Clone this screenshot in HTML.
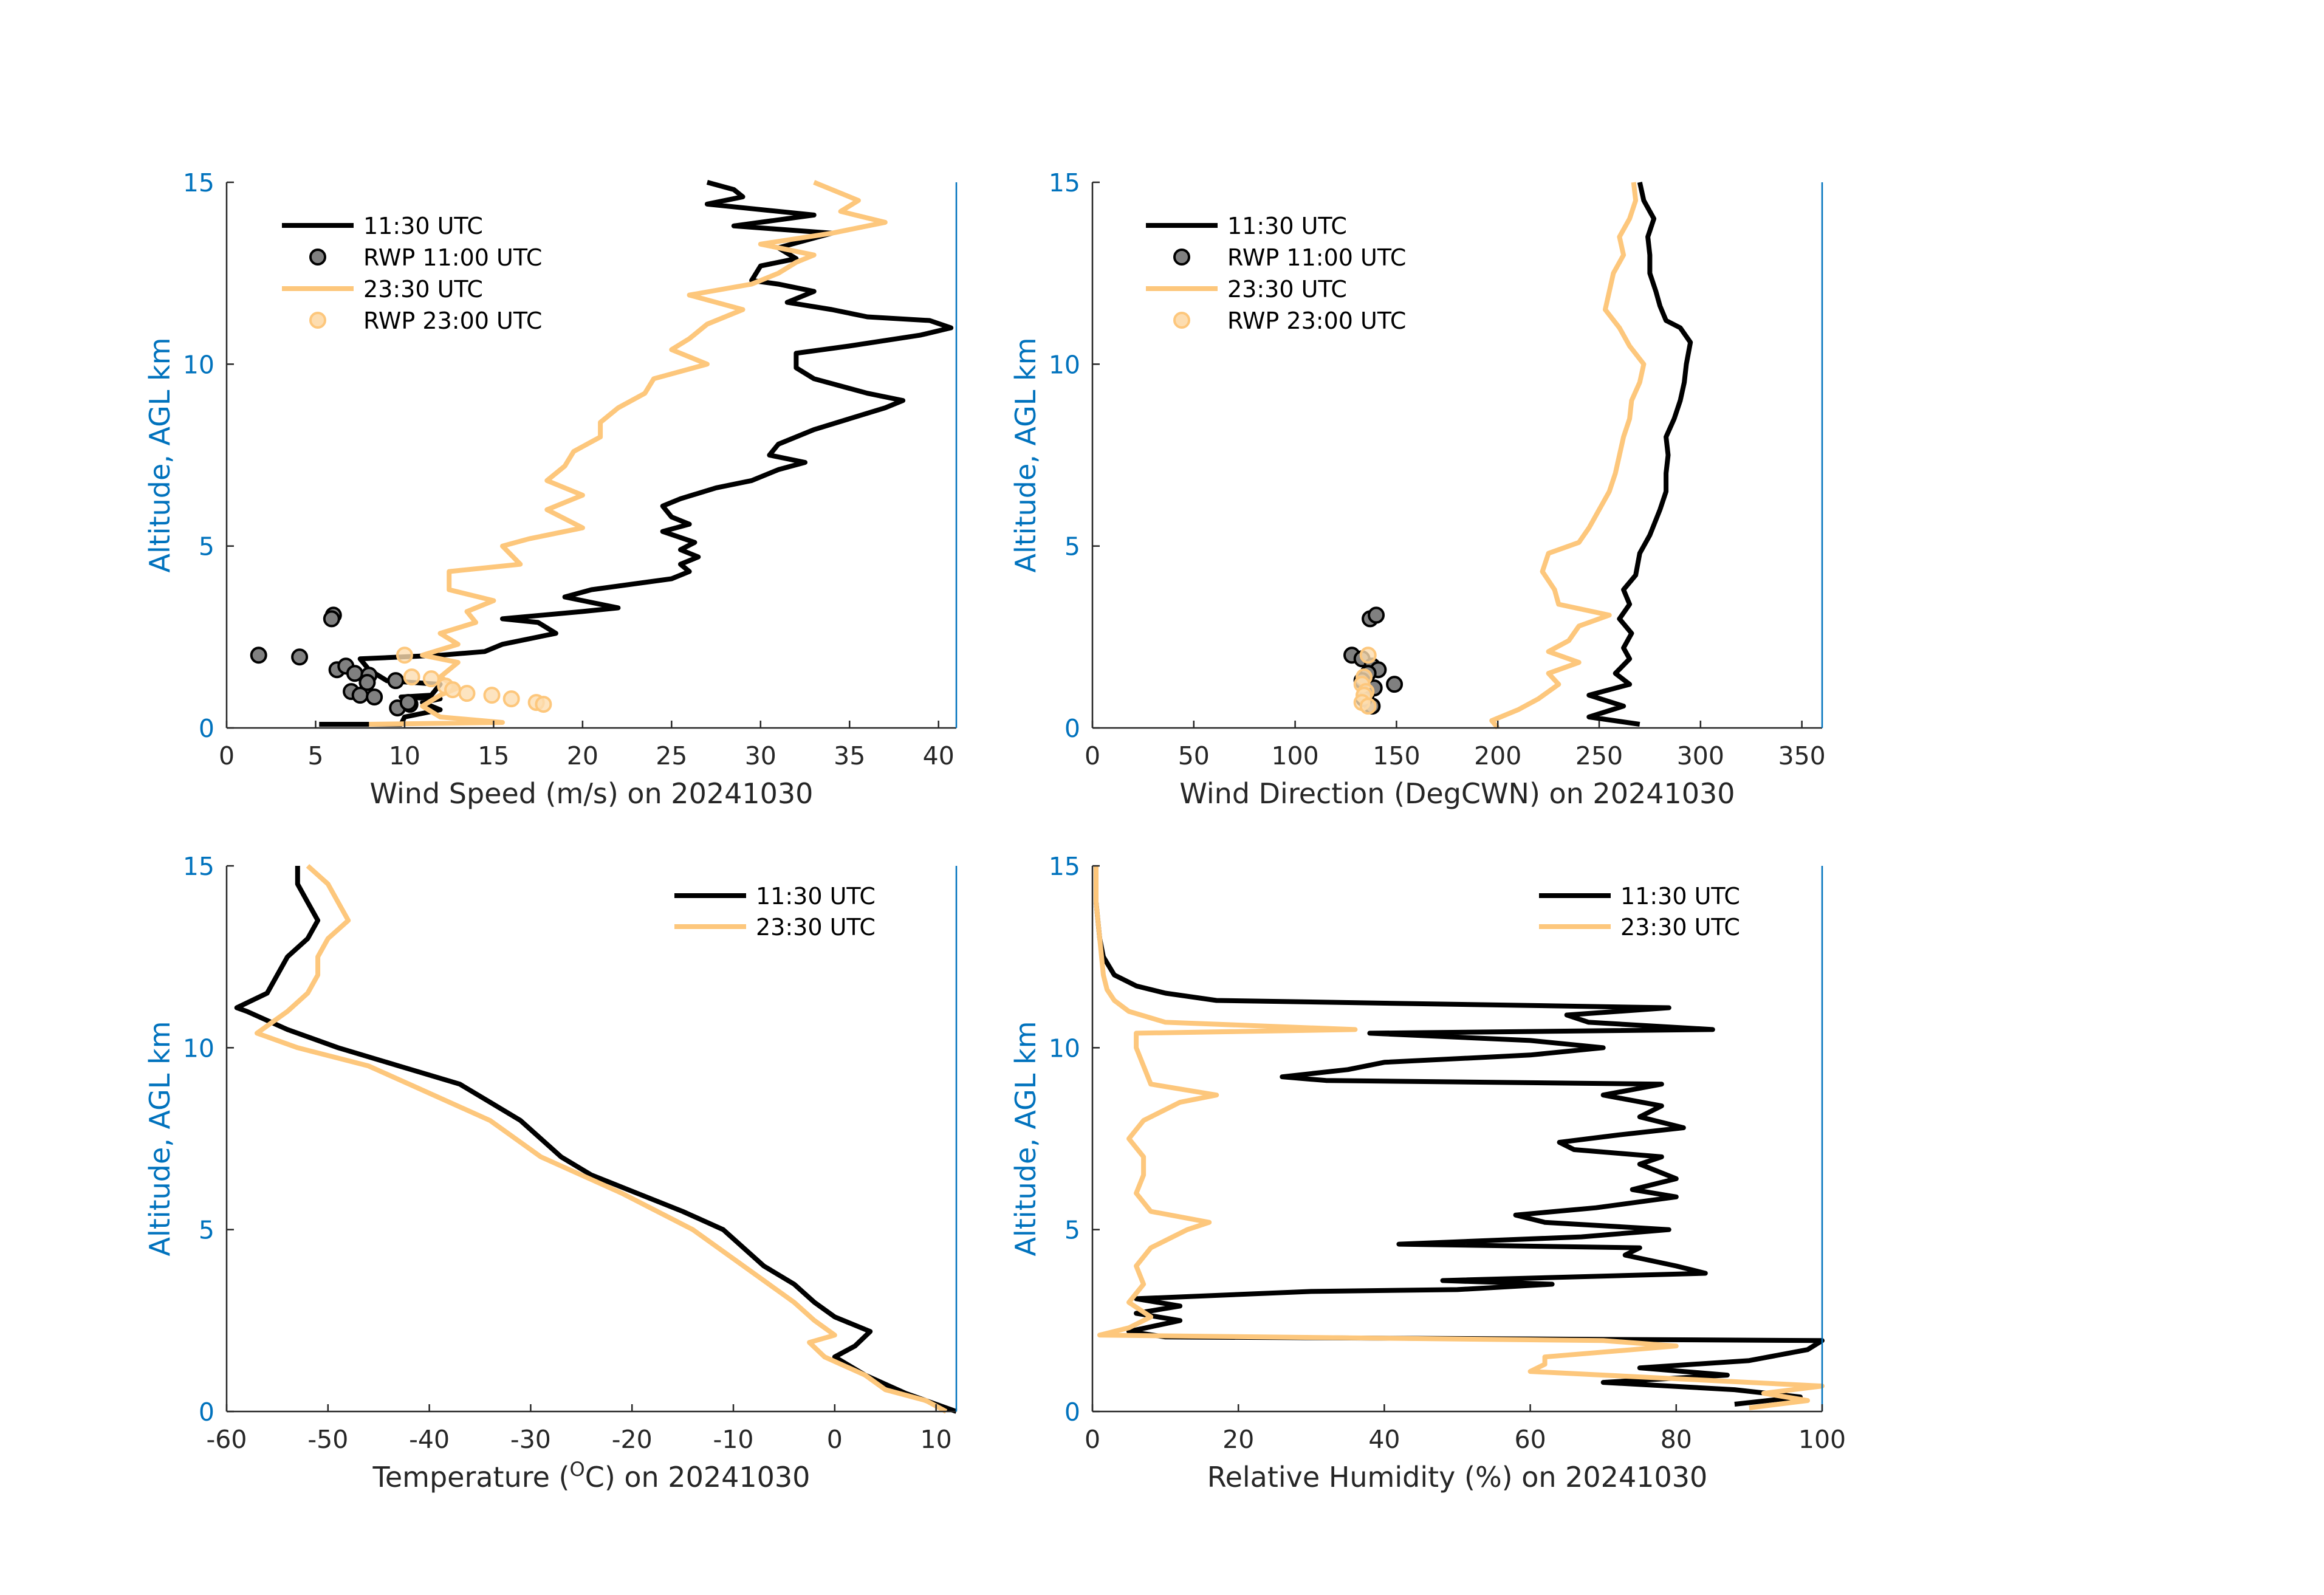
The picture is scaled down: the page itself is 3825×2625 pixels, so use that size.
<!DOCTYPE html>
<html><head><meta charset="utf-8">
<style>
html,body{margin:0;padding:0;background:#fff;}
svg{display:block;font-family:"DejaVu Sans","Liberation Sans",sans-serif;}
</style></head>
<body>
<svg id="fig" width="3825" height="2625" viewBox="0 0 3825 2625" xmlns="http://www.w3.org/2000/svg"></svg>
<script>
// ---- data: altitude (km) arrays paired with values ----
const wsAlt1 = [0.1,0.1,0.3,0.5,0.7,0.8,0.85,0.9,1.2,1.3,1.6,1.9,2.0,2.1,2.3,2.6,2.9,3.0,3.2,3.3,3.6,3.8,4.1,4.3,4.5,4.7,4.9,5.1,5.4,5.6,5.8,6.1,6.3,6.6,6.8,7.1,7.3,7.5,7.8,8.2,8.5,8.8,9.0,9.2,9.6,9.9,10.3,10.5,10.8,11.0,11.2,11.3,11.5,11.7,12.0,12.2,12.3,12.7,12.9,13.2,13.6,13.8,14.1,14.4,14.6,14.8,15];
const wsVal1 = [5.2,9.8,10,12,11,12,9.8,11.5,12,9,8,7.5,12,14.5,15.5,18.5,17.5,15.5,20,22,19,20.5,25,26,25.5,26.5,25.5,26.3,24.5,26,25,24.5,25.5,27.5,29.5,31,32.5,30.5,31,33,35,37,38,36,33,32,32,35,39,40.7,39.5,36,34,31.5,33,31,29.5,30,32,31,34,28.5,33,27,29,28.5,27];
const wsAlt2 = [0.1,0.15,0.3,0.6,0.9,1.1,1.4,1.8,2.0,2.3,2.6,2.9,3.2,3.5,3.8,4.3,4.5,5.0,5.2,5.5,6.0,6.4,6.8,7.2,7.6,8.0,8.4,8.8,9.2,9.6,10.0,10.4,10.7,11.1,11.5,11.9,12.2,12.5,12.8,13.0,13.3,13.6,13.9,14.2,14.5,15];
const wsVal2 = [8,15.5,12,11,12,13,12,13,11,13,12,14,13.5,15,12.5,12.5,16.5,15.5,17,20,18,20,18,19,19.5,21,21,22,23.5,24,27,25,26,27,29,26,29.5,31,32,33,30,34,37,34.5,35.5,33];
const rwpWs1 = [1.8,4.1,6,5.9,6.2,6.7,7.2,8,7.9,9.5,7,7.5,8.3,9.6,10.3,10.2];
const rwpWsAlt1 = [2.0,1.95,3.1,3.0,1.6,1.7,1.5,1.45,1.25,1.3,1.0,0.9,0.85,0.55,0.65,0.7];
const rwpWs2 = [10,10.4,11.5,12.3,12.7,13.5,14.9,16,17.4,17.8];
const rwpWsAlt2 = [2.0,1.4,1.35,1.15,1.05,0.95,0.9,0.8,0.7,0.65];

const wdAlt1 = [0.1,0.3,0.6,0.9,1.2,1.5,1.9,2.2,2.6,3.0,3.4,3.8,4.2,4.8,5.3,6,6.5,7,7.5,8,8.5,9,9.5,10,10.6,11.0,11.2,11.6,12,12.5,13,13.5,14,14.5,15];
const wdVal1 = [270,245,262,245,265,258,265,262,266,260,265,262,268,270,275,280,283,283,284,283,287,290,292,293,295,290,283,280,278,275,275,274,277,272,270];
const wdAlt2 = [0,0.2,0.5,0.8,1.2,1.5,1.8,2.1,2.4,2.8,3.1,3.4,3.8,4.3,4.8,5.1,5.5,6,6.5,7,7.5,8,8.5,9,9.5,10,10.5,11,11.5,12,12.5,13,13.5,14,14.5,15];
const wdVal2 = [200,197,210,220,230,225,240,225,235,240,255,230,228,222,225,240,245,250,255,258,260,262,265,266,270,272,265,260,253,255,257,262,260,265,268,267];
const rwpWd1 = [137,140,128,133,138,141,136,149,133,139,135,138,134];
const rwpWdAlt1 = [3.0,3.1,2.0,1.9,1.7,1.6,1.5,1.2,1.3,1.1,0.9,0.6,0.8];
const rwpWd2 = [136,134,133,135,134,133,136];
const rwpWdAlt2 = [2.0,1.4,1.2,1.0,0.9,0.7,0.6];

const tAlt1 = [0,0.5,1.0,1.5,1.8,2.2,2.6,3,3.5,4,4.5,5,5.5,6,6.5,7,7.5,8,8.5,9,9.5,10,10.5,11,11.1,11.5,12,12.5,13,13.5,14,14.5,15];
const tVal1 = [12,7,3,0,2,3.5,0,-2,-4,-7,-9,-11,-15,-19.5,-24,-27,-29,-31,-34,-37,-43,-49,-54,-58,-59,-56,-55,-54,-52,-51,-52,-53,-53];
const tAlt2 = [0,0.3,0.6,1.0,1.5,1.9,2.1,2.5,3,4,5,6,7,8,9,9.5,10,10.4,10.6,11,11.5,12,12.5,13,13.5,14,14.5,15];
const tVal2 = [11,9,5,3,-1,-2.5,0,-2,-4,-9,-14,-21,-29,-34,-42,-46,-53,-57,-56,-54,-52,-51,-51,-50,-48,-49,-50,-52];

const rhAlt1 = [0.2,0.4,0.6,0.8,1.0,1.2,1.4,1.7,1.95,2.05,2.2,2.5,2.7,2.9,3.1,3.3,3.35,3.5,3.6,3.8,4.0,4.3,4.5,4.6,4.8,5.0,5.2,5.4,5.6,5.9,6.1,6.4,6.8,7.0,7.2,7.4,7.6,7.8,8.1,8.4,8.7,9.0,9.1,9.2,9.4,9.6,9.8,10.0,10.2,10.4,10.5,10.7,10.9,11.1,11.3,11.5,11.7,12,12.5,13,14,15];
const rhVal1 = [88,97,88,70,87,75,90,98,100,10,5,12,6,12,6,30,50,63,48,84,80,73,75,42,67,79,62,58,69,80,74,80,75,78,66,64,72,81,75,78,70,78,32,26,35,40,60,70,60,38,85,68,65,79,17,10,6,3,1.5,1,0.5,0.5];
const rhAlt2 = [0.1,0.3,0.5,0.7,0.9,1.1,1.3,1.5,1.8,1.95,2.1,2.3,2.6,3.0,3.5,4.0,4.5,5.0,5.2,5.5,6,6.5,7,7.5,8,8.5,8.7,9,9.5,10,10.4,10.5,10.7,11,11.3,11.6,12,13,14,15];
const rhVal2 = [90,98,92,100,80,60,62,62,80,70,1,5,8,5,7,6,8,13,16,8,6,7,7,5,7,12,17,8,7,6,6,36,10,5,3,2,1.5,1,0.5,0.5];

const wsTicks = [0,5,10,15,20,25,30,35,40];
const wdTicks = [0,50,100,150,200,250,300,350];
const tTicks = [-60,-50,-40,-30,-20,-10,0,10];
const rhTicks = [0,20,40,60,80,100];
const altTicks = [0,5,10,15];

const NS = 'http://www.w3.org/2000/svg';
const fig = document.getElementById('fig');
const BLACK = '#000000', ORANGE = '#FDC77C', BLUE = '#0072BD', AX = '#262626';
function mk(tag, attrs, parent){const e=document.createElementNS(NS,tag);for(const k in attrs)e.setAttribute(k,attrs[k]);(parent||fig).appendChild(e);return e;}

function panel(cfg){
  const g = mk('g',{});
  
  
  const {x0,x1,y0,y1,xmin,xmax} = cfg;
  const sx = v => x0 + (v - xmin) / (xmax - xmin) * (x1 - x0);
  const sy = a => y1 - a / 15 * (y1 - y0);
  cfg.lines.forEach(L => {
    const d = L.alt.map((a,i)=>(i?'L':'M')+sx(L.val[i]).toFixed(1)+' '+sy(a).toFixed(1)).join(' ');
    const p = mk('path',{d:d,fill:'none',stroke:L.color,'stroke-width':8,'stroke-linejoin':'round'},g);
    
    
  });
  (cfg.points||[]).forEach(P => {
    P.val.forEach((v,i)=>{
      const c = mk('circle',{cx:sx(v),cy:sy(P.alt[i]),r:12,fill:P.fill,stroke:P.stroke,'stroke-width':4,'fill-opacity':P.op},g);
      
      
    });
  });
  const xa = mk('line',{x1:x0,y1:y1,x2:x1,y2:y1,stroke:AX,'stroke-width':2.5},g);
  
  
  const ya = mk('line',{x1:x0,y1:y0,x2:x0,y2:y1,stroke:AX,'stroke-width':2.5},g);
  
  
  const ra = mk('line',{x1:x1,y1:y0,x2:x1,y2:y1,stroke:BLUE,'stroke-width':2.5},g);
  
  
  cfg.xticks.forEach(t=>{
    mk('line',{x1:sx(t),y1:y1,x2:sx(t),y2:y1-12,stroke:AX,'stroke-width':2.5},g);
    const tx = mk('text',{x:sx(t),y:y1+60,'font-size':41,fill:AX,'text-anchor':'middle'},g);
    tx.textContent = t;
    
    
  });
  altTicks.forEach(t=>{
    mk('line',{x1:x0,y1:sy(t),x2:x0+12,y2:sy(t),stroke:AX,'stroke-width':2.5},g);
    const ty = mk('text',{x:x0-20,y:sy(t)+15,'font-size':41,fill:BLUE,'text-anchor':'end'},g);
    ty.textContent = t;
    
    
  });
  const xl = mk('text',{x:(x0+x1)/2,y:y1+124,'font-size':46,fill:AX,'text-anchor':'middle'},g);
  xl.innerHTML = cfg.xlabel;
  
  
  const yl = mk('text',{x:0,y:0,'font-size':46,fill:BLUE,'text-anchor':'middle',transform:`translate(${x0-94},${(y0+y1)/2}) rotate(-90)`},g);
  yl.textContent = 'Altitude, AGL km';
  
  
  cfg.legend.forEach((e,i)=>{
    const ly = cfg.ly + i*cfg.lstep;
    if(e.type==='line'){
      mk('line',{x1:cfg.lx,y1:ly,x2:cfg.lx+118,y2:ly,stroke:e.color,'stroke-width':8},g);
    } else {
      mk('circle',{cx:cfg.lx+59,cy:ly,r:12,fill:e.fill,stroke:e.stroke,'stroke-width':4,'fill-opacity':e.op},g);
    }
    const lt = mk('text',{x:cfg.lx+134,y:ly+14,'font-size':38,fill:'#000'},g);
    lt.textContent = e.label;
    
    
  });
}

const legFull = [
  {type:'line',color:BLACK,label:'11:30 UTC'},
  {type:'pt',fill:'#808080',stroke:'#000',op:1,label:'RWP 11:00 UTC'},
  {type:'line',color:ORANGE,label:'23:30 UTC'},
  {type:'pt',fill:'#FDDDB0',stroke:ORANGE,op:1,label:'RWP 23:00 UTC'}];
const legShort = [legFull[0], legFull[2]];

panel({name:'wind-speed-panel',x0:373,x1:1574,y0:300,y1:1198,xmin:0,xmax:41,xticks:wsTicks,
  xlabel:'Wind Speed (m/s) on 20241030',
  lines:[{alt:wsAlt1,val:wsVal1,color:BLACK,name:'ws-1130-line'},{alt:wsAlt2,val:wsVal2,color:ORANGE,name:'ws-2330-line'}],
  points:[{alt:rwpWsAlt1,val:rwpWs1,fill:'#808080',stroke:'#000',op:1,name:'rwp-1100-point'},
          {alt:rwpWsAlt2,val:rwpWs2,fill:'#FDDDB0',stroke:ORANGE,op:0.8,name:'rwp-2300-point'}],
  legend:legFull,lx:464,ly:371,lstep:52});
panel({name:'wind-direction-panel',x0:1798,x1:2999,y0:300,y1:1198,xmin:0,xmax:360,xticks:wdTicks,
  xlabel:'Wind Direction (DegCWN) on 20241030',
  lines:[{alt:wdAlt1,val:wdVal1,color:BLACK,name:'wd-1130-line'},{alt:wdAlt2,val:wdVal2,color:ORANGE,name:'wd-2330-line'}],
  points:[{alt:rwpWdAlt1,val:rwpWd1,fill:'#808080',stroke:'#000',op:1,name:'rwp-1100-point'},
          {alt:rwpWdAlt2,val:rwpWd2,fill:'#FDDDB0',stroke:ORANGE,op:0.8,name:'rwp-2300-point'}],
  legend:legFull,lx:1886,ly:371,lstep:52});
panel({name:'temperature-panel',x0:373,x1:1574,y0:1425,y1:2323,xmin:-60,xmax:12,xticks:tTicks,
  xlabel:'Temperature (<tspan font-size="32" dy="-18">O</tspan><tspan dy="18">C) on 20241030</tspan>',
  lines:[{alt:tAlt1,val:tVal1,color:BLACK,name:'temp-1130-line'},{alt:tAlt2,val:tVal2,color:ORANGE,name:'temp-2330-line'}],
  legend:legShort,lx:1110,ly:1474,lstep:51});
panel({name:'humidity-panel',x0:1798,x1:2999,y0:1425,y1:2323,xmin:0,xmax:100,xticks:rhTicks,
  xlabel:'Relative Humidity (%) on 20241030',
  lines:[{alt:rhAlt1,val:rhVal1,color:BLACK,name:'rh-1130-line'},{alt:rhAlt2,val:rhVal2,color:ORANGE,name:'rh-2330-line'}],
  legend:legShort,lx:2533,ly:1474,lstep:51});
</script>
</body></html>
